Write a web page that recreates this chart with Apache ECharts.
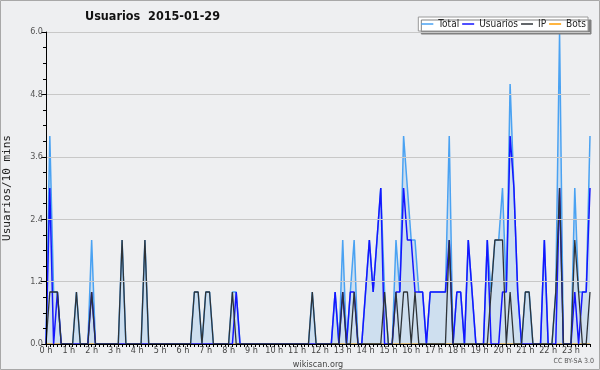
<!DOCTYPE html>
<html>
<head>
<meta charset="utf-8">
<script src="https://cdn.jsdelivr.net/npm/echarts@6/dist/echarts.min.js"></script>
<style>
html,body{margin:0;padding:0;background:#eeeff1;}
#chart{width:600px;height:370px;}
</style>
</head>
<body>
<div id="chart"></div>
<script>
// ---- data (10-minute slots, 0:00 .. 23:50) ----
const hourLabels = ['0 h','1 h','2 h','3 h','4 h','5 h','6 h','7 h','8 h','9 h','10 h','11 h',
  '12 h','13 h','14 h','15 h','16 h','17 h','18 h','19 h','20 h','21 h','22 h','23 h'];
const yTicks = [0, 1.2, 2.4, 3.6, 4.8, 6.0];

const total = [
  0,4,1,1,0,0, 0,0,1,0,0,0, 2,0,0,0,0,0, 0,0,2,0,0,0,
  0,0,2,0,0,0, 0,0,0,0,0,0, 0,0,0,1,1,0, 1,1,0,0,0,0,
  0,1,1,0,0,0, 0,0,0,0,0,0, 0,0,0,0,0,0, 0,0,0,0,1,0,
  0,0,0,0,1,0, 2,0,1,2,0,0, 1,2,1,2,3,1, 0,0,2,1,4,3,
  2,2,1,1,0,1, 1,1,1,1,4,0, 1,1,0,2,1,0, 0,0,2,1,2,2,
  3,1,5,3,1,0, 1,1,0,0,0,2, 0,0,1,6,0,0, 0,3,1,1,1,4
];
const usuarios = [
  0,3,0,1,0,0, 0,0,0,0,0,0, 1,0,0,0,0,0, 0,0,0,0,0,0,
  0,0,0,0,0,0, 0,0,0,0,0,0, 0,0,0,0,0,0, 0,0,0,0,0,0,
  0,0,1,0,0,0, 0,0,0,0,0,0, 0,0,0,0,0,0, 0,0,0,0,0,0,
  0,0,0,0,1,0, 1,0,1,1,0,0, 1,2,1,2,3,0, 0,0,1,1,3,2,
  2,1,1,1,0,1, 1,1,1,1,2,0, 1,1,0,2,1,0, 0,0,2,0,0,0,
  1,1,4,3,1,0, 0,0,0,0,0,2, 0,0,0,3,0,0, 0,1,0,1,1,3
];
const ip = [
  0,1,1,1,0,0, 0,0,1,0,0,0, 1,0,0,0,0,0, 0,0,2,0,0,0,
  0,0,2,0,0,0, 0,0,0,0,0,0, 0,0,0,1,1,0, 1,1,0,0,0,0,
  0,1,0,0,0,0, 0,0,0,0,0,0, 0,0,0,0,0,0, 0,0,0,0,1,0,
  0,0,0,0,0,0, 1,0,0,1,0,0, 0,0,0,0,0,1, 0,0,1,0,1,1,
  0,1,0,0,0,0, 0,0,0,0,2,0, 0,0,0,0,0,0, 0,0,0,1,2,2,
  2,0,1,0,0,0, 1,1,0,0,0,0, 0,0,1,3,0,0, 0,2,1,0,0,1
];
const bots = [
  0,0,0,0,0,0, 0,0,0,0,0,0, 0,0,0,0,0,0, 0,0,0,0,0,0,
  0,0,0,0,0,0, 0,0,0,0,0,0, 0,0,0,0,0,0, 0,0,0,0,0,0,
  0,0,0,0,0,0, 0,0,0,0,0,0, 0,0,0,0,0,0, 0,0,0,0,0,0,
  0,0,0,0,0,0, 0,0,0,0,0,0, 0,0,0,0,0,0, 0,0,0,0,0,0,
  0,0,0,0,0,0, 0,0,0,0,0,0, 0,0,0,0,0,0, 0,0,0,0,0,0,
  0,0,0,0,0,0, 0,0,0,0,0,0, 0,0,0,0,0,0, 0,0,0,0,0,0
];

// categories: one per 10-minute slot
const categories = [];
hourLabels.forEach(function (h, hi) {
  for (let m = 0; m < 6; m++) categories.push(hi + ':' + (m * 10 === 0 ? '00' : m * 10));
});

const FONT = '"DejaVu Sans Condensed", "DejaVu Sans", "Liberation Sans", sans-serif';
const MONO = '"DejaVu Sans Mono", "Liberation Mono", monospace';
const chart = echarts.init(document.getElementById('chart'), null, {renderer: 'canvas'});

chart.setOption({
  backgroundColor: '#eeeff1',
  animation: false,
  textStyle: {fontFamily: FONT},
  title: {
    text: 'Usuarios  2015-01-29',
    left: 85, top: 10, padding: 0,
    textStyle: {fontFamily: FONT, fontSize: 12.5, fontWeight: 'bold', color: '#111'}
  },
  legend: {
    right: 12, top: 17,
    padding: [2, 2, 2, 3],
    itemGap: 3,
    itemWidth: 12, itemHeight: 1.5,
    icon: 'rect',
    backgroundColor: '#ffffff',
    borderColor: '#9a9a9a', borderWidth: 1,
    shadowColor: '#808080', shadowBlur: 0, shadowOffsetX: 3, shadowOffsetY: 3,
    textStyle: {fontFamily: FONT, fontSize: 10, color: '#222', padding: [0, 0, 0, 0]},
    data: ['Total', 'Usuarios', 'IP', 'Bots']
  },
  grid: {left: 46, right: 10, top: 32, bottom: 26, containLabel: false, outerBoundsMode: 'none'},
  xAxis: {
    type: 'category',
    data: categories,
    boundaryGap: false,
    z: 5,
    axisLine: {show: true, lineStyle: {color: '#000', width: 1}},
    axisTick: {show: true, interval: 0, length: 3, lineStyle: {color: '#000'}},
    axisLabel: {
      interval: function (index) { return index % 6 === 0; },
      formatter: function (v, index) { return hourLabels[index / 6] || ''; },
      margin: 2, fontSize: 9, color: '#444', fontFamily: FONT
    },
    splitLine: {show: false},
    name: 'wikiscan.org', nameLocation: 'middle', nameGap: 13,
    nameTextStyle: {fontSize: 9, color: '#444', fontFamily: FONT}
  },
  yAxis: {
    type: 'value',
    min: yTicks[0], max: yTicks[yTicks.length - 1], interval: 1.2,
    z: 5,
    axisLine: {show: true, lineStyle: {color: '#000', width: 1}},
    axisTick: {show: true, length: 5, lineStyle: {color: '#000'}},
    minorTick: {show: true, splitNumber: 4, length: 3, lineStyle: {color: '#000'}},
    axisLabel: {
      formatter: function (v) { return v.toFixed(1); },
      margin: 3, fontSize: 9, color: '#555', fontFamily: FONT
    },
    splitLine: {show: true, lineStyle: {color: '#c8c8c8', width: 1}},
    name: 'Usuarios/10 mins', nameLocation: 'middle', nameRotate: 90, nameGap: 33,
    nameTextStyle: {fontSize: 11, color: '#222', fontFamily: MONO}
  },
  series: [
    {
      name: 'Total', type: 'line', data: total, symbol: 'none', showSymbol: false,
      color: '#4aa2f2',
      lineStyle: {color: '#4aa2f2', width: 1.5},
      areaStyle: {color: 'rgba(138,189,236,0.45)'},
      z: 2
    },
    {
      name: 'Usuarios', type: 'line', data: usuarios, symbol: 'none', showSymbol: false,
      color: '#1515ff',
      lineStyle: {color: '#1515ff', width: 1.5},
      z: 3
    },
    {
      name: 'IP', type: 'line', data: ip, symbol: 'none', showSymbol: false,
      color: '#2e3338',
      lineStyle: {color: '#2e3338', width: 1.3},
      z: 4
    },
    {
      name: 'Bots', type: 'line', data: bots, symbol: 'none', showSymbol: false,
      color: '#ff9c00',
      lineStyle: {color: '#ff9c00', width: 1.3},
      z: 1
    }
  ],
  graphic: [
    {type: 'rect', shape: {x: 0.5, y: 0.5, width: 599, height: 369},
     style: {fill: 'none', stroke: '#a8a8a8', lineWidth: 1}, silent: true, z: 100},
    {type: 'text', right: 6, top: 358,
     style: {text: 'CC BY-SA 3.0', fontSize: 7, fill: '#555', fontFamily: FONT}}
  ]
});
</script>
</body>
</html>
